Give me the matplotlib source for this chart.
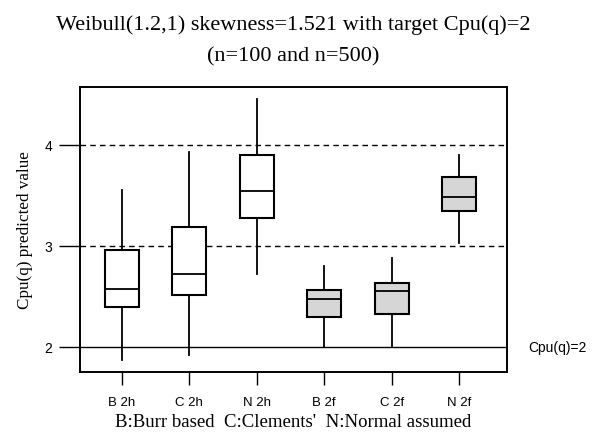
import matplotlib.pyplot as plt

# box summaries for each method / sample size (whisker low, Q1, median, Q3, whisker high)
labels = ['B 2h', 'C 2h', 'N 2h', 'B 2f', 'C 2f', 'N 2f']
whislo = [1.87, 1.92, 2.72, 2.00, 2.00, 3.03]
q1 = [2.39, 2.515, 3.27, 2.29, 2.32, 3.34]
med = [2.57, 2.72, 3.54, 2.475, 2.55, 3.48]
q3 = [2.96, 3.185, 3.895, 2.565, 2.63, 3.68]
whishi = [3.554, 3.93, 4.45, 2.795, 2.88, 3.90]
shaded = [False, False, False, True, True, True]

stats = []
for i in range(len(labels)):
    stats.append({'label': labels[i], 'whislo': whislo[i], 'q1': q1[i], 'med': med[i],
                  'q3': q3[i], 'whishi': whishi[i], 'fliers': []})

serif = ['Liberation Serif', 'DejaVu Serif']
sans = ['Liberation Sans', 'DejaVu Sans']

fig = plt.figure(figsize=(6.1, 4.39), dpi=100)
ax = fig.add_axes([80 / 610, 1 - 373 / 439, 427 / 610, 285 / 439])

# reference lines
ax.axhline(4, color='black', lw=1.0, ls=(0, (4, 3)), zorder=1)
ax.axhline(3, color='black', lw=1.0, ls=(0, (4, 3)), zorder=1)
ax.axhline(2, color='black', lw=1.0, zorder=1)

bp = ax.bxp(stats, positions=range(1, 7), widths=0.5, showcaps=False, showfliers=False,
            patch_artist=True,
            boxprops=dict(linewidth=1.5, edgecolor='black'),
            medianprops=dict(color='black', linewidth=1.3),
            whiskerprops=dict(color='black', linewidth=1.3))
for box, s in zip(bp['boxes'], shaded):
    box.set_facecolor('#d6d6d6' if s else 'white')
    box.set_zorder(3)
for m in bp['medians']:
    m.set_zorder(4)

ax.set_xlim(0.38, 6.71)
ax.set_ylim(1.75, 4.57)
ax.set_yticks([2, 3, 4])
ax.set_yticklabels(['2', '3', '4'], family=sans, fontsize=10)
ax.set_xticks(range(1, 7))
ax.set_xticklabels(labels, family=sans, fontsize=9.5)
ax.tick_params(axis='y', length=15, width=1.0, pad=5)
ax.tick_params(axis='x', length=9, width=1.0, pad=8)
for sp in ax.spines.values():
    sp.set_linewidth(1.4)

ax.text(1.05, 2, 'Cpu(q)=2', transform=ax.get_yaxis_transform(), va='center', ha='left',
        family=sans, fontsize=10)

ax.set_ylabel('Cpu(q) predicted value', family=serif, fontsize=12.3, labelpad=8)
ax.set_xlabel("B:Burr based  C:Clements'  N:Normal assumed", family=serif, fontsize=13.5, labelpad=4)
ax.set_title('Weibull(1.2,1) skewness=1.521 with target Cpu(q)=2\n(n=100 and n=500)',
             family=serif, fontsize=16, linespacing=1.85, pad=19)

fig.savefig('out.png', dpi=100)
